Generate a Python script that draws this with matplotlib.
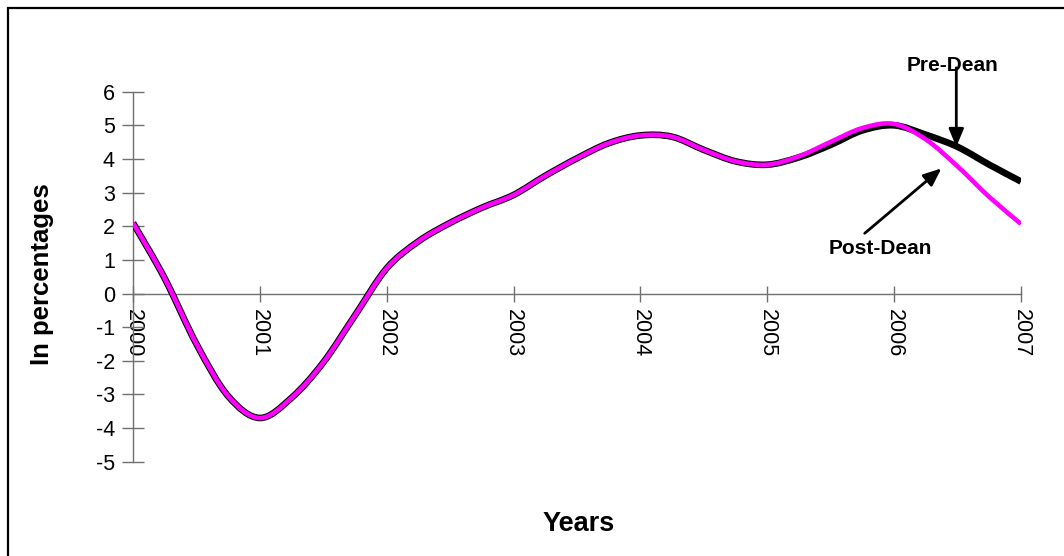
import numpy as np
import matplotlib
matplotlib.use("Agg")
from matplotlib import pyplot as plt
from matplotlib.path import Path
from matplotlib.patches import PathPatch, Rectangle

plt.rcParams['font.family'] = ['Liberation Sans', 'DejaVu Sans']

# quarterly growth, 2000Q1 .. 2007Q1 (in percentages)
quarters = [2000 + q / 4 for q in range(29)]
post_dean = [2.1, 0.45, -1.5, -3.05, -3.7, -3.1, -2.05, -0.65, 0.75,
             1.55, 2.1, 2.55, 2.93, 3.5, 4.02, 4.47, 4.7,
             4.66, 4.27, 3.93, 3.83, 4.08, 4.51, 4.92, 5.04,
             4.58, 3.78, 2.87, 2.07]
pre_dean = [2.1, 0.45, -1.5, -3.05, -3.7, -3.1, -2.05, -0.65, 0.75,
            1.55, 2.1, 2.55, 2.93, 3.5, 4.02, 4.47, 4.7,
            4.66, 4.27, 3.93, 3.83, 4.05, 4.42, 4.85, 5.0,
            4.72, 4.36, 3.83, 3.33]
year_ticks = list(range(2000, 2008))
pct_ticks = list(range(-5, 7))


def smooth_path(x, y):
    # Catmull-Rom style cubic segments through every data point
    pts = np.column_stack([x, y])
    ext = np.vstack([pts[0], pts, pts[-1]])
    verts = [pts[0]]
    codes = [Path.MOVETO]
    for i in range(1, len(ext) - 2):
        p0, p1, p2, p3 = ext[i - 1], ext[i], ext[i + 1], ext[i + 2]
        verts += [p1 + (p2 - p0) / 6, p2 - (p3 - p1) / 6, p2]
        codes += [Path.CURVE4] * 3
    return Path(verts, codes)


fig = plt.figure(figsize=(10.64, 5.56), dpi=100)
ax = fig.add_axes([133 / 1064, 1 - 461.7 / 556, (1021 - 133) / 1064, (461.7 - 91.7) / 556])

ax.add_patch(PathPatch(smooth_path(quarters, pre_dean), facecolor='none', edgecolor='black',
                       lw=4.8, capstyle='butt', joinstyle='round', zorder=3))
ax.add_patch(PathPatch(smooth_path(quarters, post_dean), facecolor='none', edgecolor='#ff00ff',
                       lw=3.3, capstyle='butt', joinstyle='round', zorder=4))

ax.set_xlim(2000, 2007)
ax.set_ylim(-5, 6)

for side in ['top', 'right']:
    ax.spines[side].set_visible(False)
ax.spines['bottom'].set_position(('data', 0))
for side in ['left', 'bottom']:
    ax.spines[side].set_color('#707070')
    ax.spines[side].set_linewidth(1.0)

ax.set_yticks(pct_ticks)
ax.set_yticklabels([str(v) for v in pct_ticks], fontsize=15.5)
ax.set_xticks(year_ticks)
ax.set_xticklabels([str(v) for v in year_ticks], fontsize=15.5, rotation=-90)
ax.tick_params(axis='y', direction='inout', length=16, width=1, color='#707070', pad=5)
ax.tick_params(axis='x', direction='inout', length=12, width=1, color='#707070', pad=5)

fig.text(42 / 1064, 1 - 274 / 556, 'In percentages', rotation=90, fontsize=18.5,
         fontweight='bold', ha='center', va='center')
fig.text(579 / 1064, 1 - 524 / 556, 'Years', fontsize=19.5, fontweight='bold',
         ha='center', va='center')

# labels and arrows pointing at the two lines
ax.text(2006.46, 6.79, 'Pre-Dean', fontsize=15, fontweight='bold', ha='center', va='center')
ax.annotate('', xy=(2006.49, 4.36), xytext=(2006.49, 6.71), annotation_clip=False,
            arrowprops=dict(arrowstyle='-|>,head_length=0.6,head_width=0.25', color='black', lw=2,
                            mutation_scale=18, shrinkA=0, shrinkB=0), zorder=5)
ax.text(2005.894, 1.35, 'Post-Dean', fontsize=15, fontweight='bold', ha='center', va='center')
ax.annotate('', xy=(2006.373, 3.72), xytext=(2005.768, 1.79), annotation_clip=False,
            arrowprops=dict(arrowstyle='-|>,head_length=0.6,head_width=0.25', color='black', lw=2,
                            mutation_scale=18, shrinkA=0, shrinkB=0), zorder=5)

# chart border, running off the right and bottom edges
fig.patches.append(Rectangle((8 / 1064, -0.1), 1.1, 1.1 - 8 / 556, transform=fig.transFigure,
                             fill=False, edgecolor='black', lw=1.6))

fig.savefig('out.png', dpi=100)
